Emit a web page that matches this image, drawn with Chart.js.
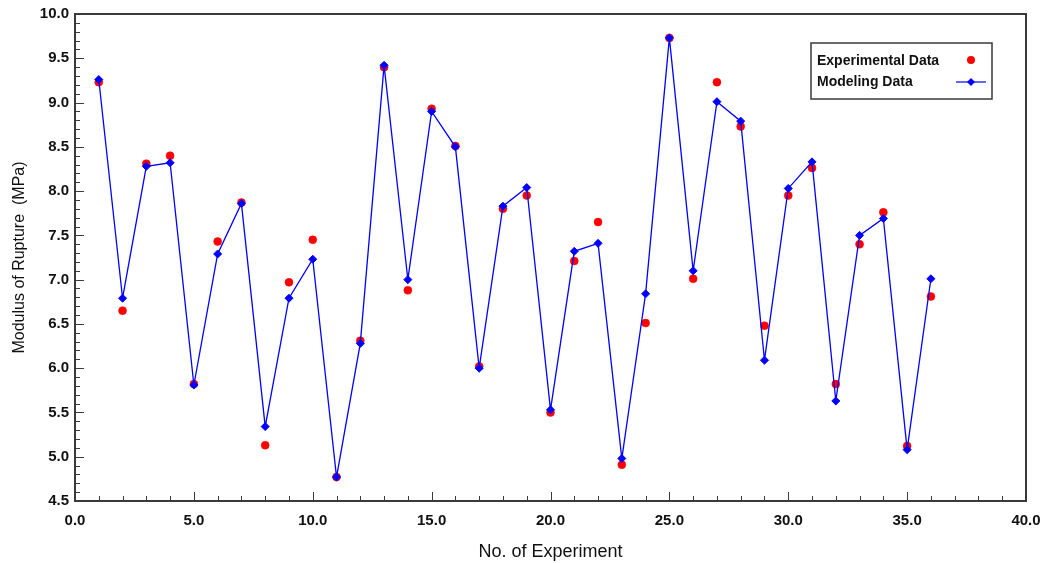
<!DOCTYPE html>
<html>
<head>
<meta charset="utf-8">
<script src="https://cdn.jsdelivr.net/npm/chart.js@4.4.0/dist/chart.umd.min.js"></script>
<style>
  html, body { margin: 0; padding: 0; background: #fff; }
  #wrap { width: 1046px; height: 563px; }
</style>
</head>
<body>
<div id="wrap"><canvas id="ruptureChart" width="1046" height="563"></canvas></div>
<script>
// experiment numbers and the two series
const experimentNo = [1, 2, 3, 4, 5, 6, 7, 8, 9, 10, 11, 12, 13, 14, 15, 16, 17, 18,
                      19, 20, 21, 22, 23, 24, 25, 26, 27, 28, 29, 30, 31, 32, 33, 34, 35, 36];
const experimentalData = [9.23, 6.65, 8.31, 8.40, 5.82, 7.43, 7.87, 5.13, 6.97, 7.45, 4.77, 6.31,
                          9.40, 6.88, 8.93, 8.51, 6.02, 7.80, 7.95, 5.50, 7.21, 7.65, 4.91, 6.51,
                          9.73, 7.01, 9.23, 8.73, 6.48, 7.95, 8.26, 5.82, 7.40, 7.76, 5.12, 6.81];
const modelingData = [9.26, 6.79, 8.28, 8.32, 5.81, 7.29, 7.86, 5.34, 6.79, 7.23, 4.77, 6.28,
                      9.42, 7.00, 8.90, 8.50, 6.00, 7.83, 8.04, 5.53, 7.32, 7.41, 4.98, 6.84,
                      9.73, 7.10, 9.01, 8.79, 6.09, 8.03, 8.33, 5.63, 7.50, 7.69, 5.08, 7.01];
const xTicks = [0, 5, 10, 15, 20, 25, 30, 35, 40];
const yTicks = [4.5, 5.0, 5.5, 6.0, 6.5, 7.0, 7.5, 8.0, 8.5, 9.0, 9.5, 10.0];
const legendLabels = ["Experimental Data", "Modeling Data"];

const RED = "#ff0000";
const BLUE = "#0000ff";
const FRAME = "#3a3a3a";
const FONT = "'Liberation Sans', Arial, sans-serif";

// cadre + graduations vers l'intérieur
const framePlugin = {
  id: "frame",
  beforeDatasetsDraw(chart) {
    const { ctx, chartArea: a, scales: { x, y } } = chart;
    ctx.save();
    ctx.strokeStyle = FRAME;
    ctx.lineWidth = 1;
    // x ticks, minor every 1.0
    for (let v = 0; v <= 40; v++) {
      const px = Math.round(x.getPixelForValue(v)) + 0.5;
      const len = v % 5 === 0 ? 9 : 5;
      ctx.beginPath();
      ctx.moveTo(px, a.bottom);
      ctx.lineTo(px, a.bottom - len);
      ctx.stroke();
    }
    // y ticks, minor every 0.1
    for (let i = 45; i <= 100; i++) {
      const py = Math.round(y.getPixelForValue(i / 10)) + 0.5;
      const len = i % 5 === 0 ? 9 : 5;
      ctx.beginPath();
      ctx.moveTo(a.left, py);
      ctx.lineTo(a.left + len, py);
      ctx.stroke();
    }
    ctx.lineWidth = 2;
    ctx.strokeRect(a.left, a.top, a.right - a.left, a.bottom - a.top);
    ctx.restore();
  }
};

// légende dans un cadre, texte à gauche, symbole à droite
const legendPlugin = {
  id: "boxLegend",
  afterDraw(chart) {
    const ctx = chart.ctx;
    const bx = 811, by = 43, bw = 181, bh = 56;
    ctx.save();
    ctx.strokeStyle = FRAME;
    ctx.lineWidth = 1.5;
    ctx.strokeRect(bx, by, bw, bh);
    ctx.fillStyle = "#111";
    ctx.font = "bold 14px " + FONT;
    ctx.textBaseline = "middle";
    ctx.fillText(legendLabels[0], bx + 6, by + 18);
    ctx.fillText(legendLabels[1], bx + 6, by + 39);
    ctx.fillStyle = RED;
    ctx.beginPath();
    ctx.arc(bx + 160, by + 17, 4, 0, Math.PI * 2);
    ctx.fill();
    ctx.strokeStyle = BLUE;
    ctx.lineWidth = 1.2;
    ctx.beginPath();
    ctx.moveTo(bx + 145, by + 39);
    ctx.lineTo(bx + 175, by + 39);
    ctx.stroke();
    ctx.fillStyle = BLUE;
    ctx.lineWidth = 1;
    Chart.helpers.drawPoint(ctx, { pointStyle: "rectRot", radius: 4, rotation: 0 }, bx + 160, by + 39);
    ctx.restore();
  }
};

const ctx = document.getElementById("ruptureChart");
new Chart(ctx, {
  type: "scatter",
  data: {
    datasets: [
      {
        label: legendLabels[1],
        data: experimentNo.map((n, i) => ({ x: n, y: modelingData[i] })),
        showLine: true,
        borderColor: BLUE,
        borderWidth: 1.3,
        backgroundColor: BLUE,
        pointStyle: "rectRot",
        pointRadius: 4,
        pointBorderWidth: 1,
        tension: 0
      },
      {
        label: legendLabels[0],
        data: experimentNo.map((n, i) => ({ x: n, y: experimentalData[i] })),
        showLine: false,
        borderColor: RED,
        backgroundColor: RED,
        pointStyle: "circle",
        pointRadius: 4,
        pointBorderWidth: 0.5
      }
    ]
  },
  options: {
    responsive: false,
    animation: false,
    devicePixelRatio: 1,
    layout: { padding: { top: 14, right: 20, left: 0, bottom: 0 } },
    plugins: {
      legend: { display: false },
      tooltip: { enabled: false }
    },
    scales: {
      x: {
        type: "linear",
        min: 0,
        max: 40,
        grid: { display: false, drawTicks: false, tickLength: 0 },
        border: { display: false },
        afterBuildTicks: s => { s.ticks = xTicks.map(v => ({ value: v })); },
        afterFit: s => { s.height = 62; s.paddingLeft = 0; s.paddingRight = 0; },
        ticks: {
          color: "#111",
          padding: 11,
          font: { family: FONT, size: 15, weight: "bold" },
          callback: v => Number(v).toFixed(1)
        },
        title: {
          display: true,
          text: "No. of Experiment",
          color: "#111",
          padding: { top: 10, bottom: 0 },
          font: { family: FONT, size: 18 }
        }
      },
      y: {
        type: "linear",
        min: 4.5,
        max: 10,
        grid: { display: false, drawTicks: false, tickLength: 0 },
        border: { display: false },
        afterBuildTicks: s => { s.ticks = yTicks.map(v => ({ value: v })); },
        afterFit: s => { s.width = 75; s.paddingTop = 0; s.paddingBottom = 0; },
        ticks: {
          color: "#111",
          padding: 6,
          font: { family: FONT, size: 15, weight: "bold" },
          callback: v => Number(v).toFixed(1)
        },
        title: {
          display: true,
          text: "Modulus of Rupture  (MPa)",
          color: "#111",
          padding: { top: 10, bottom: 0 },
          font: { family: FONT, size: 16 }
        }
      }
    }
  },
  plugins: [framePlugin, legendPlugin]
});
</script>
</body>
</html>
